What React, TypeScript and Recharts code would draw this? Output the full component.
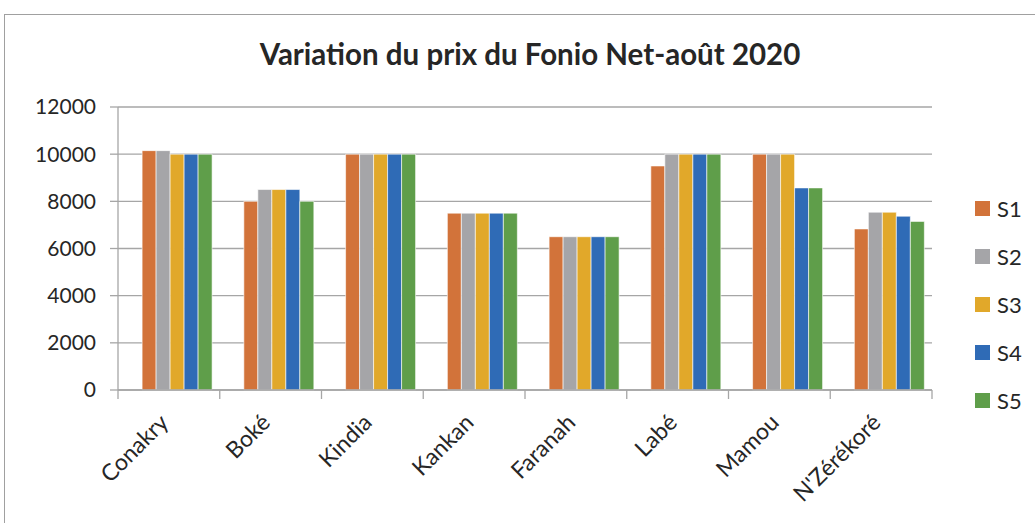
import React from 'react';
import { BarChart, Bar, XAxis, YAxis, CartesianGrid } from 'recharts';

const categories = ['Conakry', 'Boké', 'Kindia', 'Kankan', 'Faranah', 'Labé', 'Mamou', "N'Zérékoré"];
const s1 = [10150, 8000, 10000, 7500, 6500, 9500, 10000, 6830];
const s2 = [10150, 8500, 10000, 7500, 6500, 10000, 10000, 7540];
const s3 = [10000, 8500, 10000, 7500, 6500, 10000, 10000, 7540];
const s4 = [10000, 8500, 10000, 7500, 6500, 10000, 8570, 7370];
const s5 = [10000, 8000, 10000, 7500, 6500, 10000, 8570, 7150];
const yTicks = [0, 2000, 4000, 6000, 8000, 10000, 12000];
const seriesNames = ['S1', 'S2', 'S3', 'S4', 'S5'];
const colors = ['#D2733A', '#A5A5A8', '#E1A82A', '#2F6BB6', '#5F9E4A'];

const data = categories.map((c, i) => ({
  name: c,
  S1: s1[i],
  S2: s2[i],
  S3: s3[i],
  S4: s4[i],
  S5: s5[i],
}));

const FONT = 'Lato, "Open Sans", sans-serif';
const W = 1035;
const H = 523;
const margin = { top: 107, right: 103, bottom: 0, left: 0 };
const Y_WIDTH = 118;
const SHIFT = 7;
const plotW = W - margin.left - margin.right - Y_WIDTH;
const band = plotW / categories.length;
const AXIS = '#A6A6A6';

const XTick = (props: any) => {
  const { x, y, payload, index } = props;
  const left = x - band / 2 - SHIFT;
  const ax = x - 6;
  const ay = y + 26;
  return (
    <g>
      <line x1={left} y1={y - 8} x2={left} y2={y + 1} stroke={AXIS} strokeWidth={1.3} />
      {index === categories.length - 1 && (
        <line x1={x + band / 2 - SHIFT} y1={y - 8} x2={x + band / 2 - SHIFT} y2={y + 1} stroke={AXIS} strokeWidth={1.3} />
      )}
      <text
        x={ax}
        y={ay}
        transform={`rotate(-45, ${ax}, ${ay})`}
        textAnchor="end"
        fontFamily={FONT}
        fontSize={23}
        fill="#262626"
      >
        {payload.value}
      </text>
    </g>
  );
};

export default function App() {
  return (
    <div style={{ position: 'fixed', left: 0, top: 0, width: W, height: H, background: '#fff', overflow: 'hidden' }}>
      <div
        style={{
          position: 'absolute',
          left: 4,
          top: 14,
          width: 1100,
          height: 600,
          border: '1px solid #A0A0A0',
          boxSizing: 'border-box',
        }}
      />
      <div
        style={{
          position: 'absolute',
          left: 0,
          top: 36,
          width: 1060,
          textAlign: 'center',
          fontFamily: FONT,
          fontWeight: 700,
          fontSize: 29.5,
          color: '#262626',
        }}
      >
        Variation du prix du Fonio Net-août 2020
      </div>
      <div
        style={{
          position: 'absolute',
          left: 975,
          top: 184,
          fontFamily: FONT,
          fontSize: 22,
          color: '#262626',
        }}
      >
        {seriesNames.map((n, i) => (
          <div key={n} style={{ display: 'flex', alignItems: 'center', height: 48.2 }}>
            <div style={{ width: 15, height: 15, background: colors[i], marginRight: 7 }} />
            <span>{n}</span>
          </div>
        ))}
      </div>
      <div style={{ position: 'absolute', left: 0, top: 0 }}>
        <BarChart width={W} height={H} data={data} margin={margin} barGap={0} barCategoryGap="16.8%">
          <CartesianGrid vertical={false} stroke={AXIS} strokeWidth={1.3} />
          <XAxis
            dataKey="name"
            height={133}
            interval={0}
            padding={{ left: SHIFT, right: -SHIFT }}
            tickLine={false}
            axisLine={{ stroke: AXIS, strokeWidth: 1.3 }}
            tick={<XTick />}
          />
          <YAxis
            width={Y_WIDTH}
            domain={[0, 12000]}
            ticks={yTicks}
            interval={0}
            tickSize={8}
            tickMargin={14}
            tickLine={{ stroke: AXIS, strokeWidth: 1.3 }}
            axisLine={{ stroke: AXIS, strokeWidth: 1.3 }}
            tick={{ fontFamily: FONT, fontSize: 21, fill: '#262626' }}
          />
          {seriesNames.map((n, i) => (
            <Bar key={n} dataKey={n} fill={colors[i]} stroke="#ffffff" strokeWidth={0.6} isAnimationActive={false} />
          ))}
        </BarChart>
      </div>
    </div>
  );
}
